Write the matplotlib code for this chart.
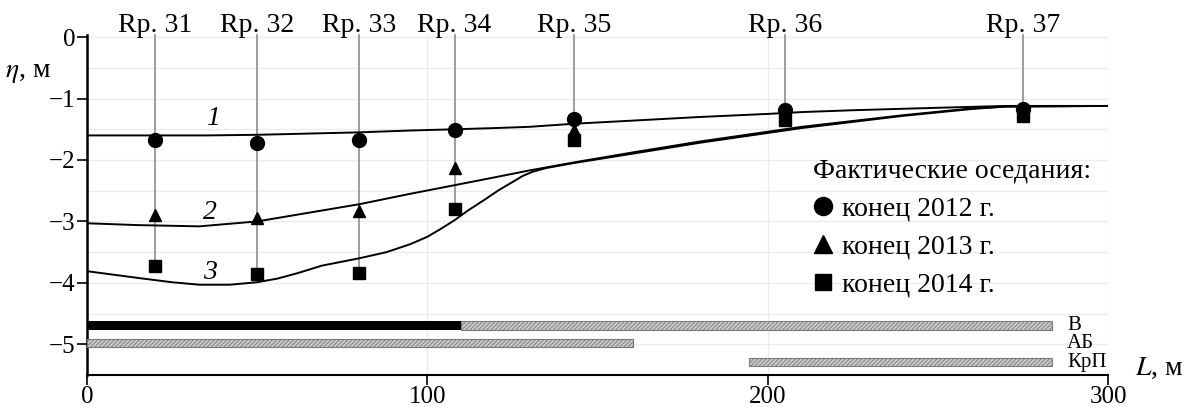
import numpy as np
import matplotlib
matplotlib.use('Agg')
import matplotlib.pyplot as plt
from matplotlib.lines import Line2D

plt.rcParams['font.family'] = ['Liberation Serif', 'DejaVu Serif']
plt.rcParams['mathtext.fontset'] = 'stix'
plt.rcParams['hatch.linewidth'] = 0.6

# benchmarks (Rp) and measured subsidence
rp_names = ['Rp. 31', 'Rp. 32', 'Rp. 33', 'Rp. 34', 'Rp. 35', 'Rp. 36', 'Rp. 37']
rp_x = [20, 50, 80, 108, 143, 205, 275]
eta_2012 = [-1.67, -1.72, -1.67, -1.51, -1.33, -1.19, -1.17]
eta_2013 = [-2.90, -2.95, -2.83, -2.13, -1.51, -1.28, -1.20]
eta_2014 = [-3.73, -3.86, -3.84, -2.79, -1.68, -1.35, -1.29]

# calculated curves 1, 2, 3
L1 = [0, 20, 35, 50, 65, 80, 95, 108, 120, 130, 143, 160, 180, 200, 210, 225, 250, 270, 300]
eta1 = [-1.60, -1.60, -1.60, -1.59, -1.57, -1.55, -1.52, -1.50, -1.48, -1.46, -1.41, -1.36, -1.30,
        -1.25, -1.22, -1.19, -1.15, -1.12, -1.12]
L2 = [0, 15, 33, 50, 65, 80, 95, 108, 120, 130, 143, 160, 180, 210, 240, 260, 270, 300]
eta2 = [-3.03, -3.06, -3.08, -3.00, -2.86, -2.72, -2.55, -2.41, -2.28, -2.17, -2.04, -1.88, -1.70,
        -1.46, -1.27, -1.16, -1.13, -1.12]
L3 = [0, 15, 25, 33, 42, 50, 56, 62, 69, 80, 88, 95, 100, 104, 108, 112, 117, 121, 125, 128, 131,
      135, 143, 160, 180, 210, 240, 260, 270, 300]
eta3 = [-3.81, -3.92, -3.99, -4.03, -4.03, -3.99, -3.93, -3.84, -3.72, -3.60, -3.50, -3.37, -3.25,
        -3.12, -2.98, -2.82, -2.64, -2.49, -2.36, -2.26, -2.19, -2.13, -2.05, -1.90, -1.72, -1.48,
        -1.28, -1.17, -1.13, -1.12]

# layers at the bottom
v_black = [0, 110]
v_gray = [110, 283.5]
ab_gray = [0, 160.4]
krp_gray = [194.5, 283.5]
layer_y = [-4.69, -4.98, -5.29]
layer_names = ['В', 'АБ', 'КрП']

fig = plt.figure(figsize=(11.9, 4.07), dpi=100)
ax = fig.add_axes([0.0731, 0.0786, 0.858, 0.835])

ax.set_xlim(0, 300)
ax.set_ylim(-5.487, 0.032)

ax.set_xticks([0, 100, 200, 300])
ax.set_yticks([0, -1, -2, -3, -4, -5])
ax.set_yticks(np.arange(-5.5, 0.01, 0.5), minor=True)
ax.tick_params(axis='both', which='major', labelsize=18, length=7, width=1.2, direction='out')
ax.tick_params(axis='y', which='minor', length=0)
ax.tick_params(axis='y', pad=1.5)
ax.tick_params(axis='x', pad=1)
ax.grid(True, which='both', color='#ececec', linewidth=1.0)
ax.set_axisbelow(True)
for s in ['top', 'right']:
    ax.spines[s].set_visible(False)
ax.spines['left'].set_linewidth(1.8)
ax.spines['bottom'].set_linewidth(1.5)

# vertical lines + labels for benchmarks
for x, name, a, b, c in zip(rp_x, rp_names, eta_2012, eta_2013, eta_2014):
    low = min(a, b, c)
    ax.plot([x, x], [low, 0.03], color='#8c8c8c', lw=1.2, clip_on=False, zorder=2)
    ax.text(x, 0.08, name, ha='center', va='baseline', fontsize=20)

ax.plot(L1, eta1, color='black', lw=1.4, zorder=3)
ax.plot(L2, eta2, color='black', lw=1.4, zorder=3)
ax.plot(L3, eta3, color='black', lw=1.4, zorder=3)

ax.plot(rp_x, eta_2012, 'o', color='black', ms=10, zorder=4, clip_on=False)
ax.plot(rp_x, eta_2013, '^', color='black', ms=8, zorder=4)
ax.plot(rp_x, eta_2014, 's', color='black', ms=8.5, zorder=4)

ax.text(37, -1.33, '1', fontsize=20, style='italic', ha='center', va='center')
ax.text(36, -2.85, '2', fontsize=20, style='italic', ha='center', va='center')
ax.text(36, -3.83, '3', fontsize=20, style='italic', ha='center', va='center')

# layers
h = 0.14
ax.barh(layer_y[0], v_black[1] - v_black[0], left=v_black[0], height=h, color='black', zorder=3)
for seg, y in [(v_gray, layer_y[0]), (ab_gray, layer_y[1]), (krp_gray, layer_y[2])]:
    ax.barh(y, seg[1] - seg[0], left=seg[0], height=h, facecolor='#c8c8c8',
            edgecolor='#7a7a7a', hatch='////////', linewidth=0.8, zorder=3)
for y, name in zip(layer_y, layer_names):
    ax.text(288, y, name, fontsize=15, ha='left', va='center')

# legend
handles = [Line2D([], [], ls='none', marker='o', color='black', ms=13),
           Line2D([], [], ls='none', marker='^', color='black', ms=13),
           Line2D([], [], ls='none', marker='s', color='black', ms=12)]
leg = ax.legend(handles, ['конец 2012 г.', 'конец 2013 г.', 'конец 2014 г.'],
                title='Фактические оседания:', loc='upper left',
                bbox_to_anchor=(0.70, 0.67), frameon=False, fontsize=20,
                title_fontsize=20, alignment='left', handlelength=0.7,
                handletextpad=0.35, labelspacing=0.45, borderaxespad=0)

ax.text(-0.08, -0.57, r'$\eta$, м', transform=ax.get_yaxis_transform(),
        fontsize=20, ha='left', va='center')
ax.text(308, 0.02, r'$L$, м', transform=ax.get_xaxis_transform(),
        fontsize=20, ha='left', va='center', clip_on=False)

fig.savefig('out.png', dpi=100)
